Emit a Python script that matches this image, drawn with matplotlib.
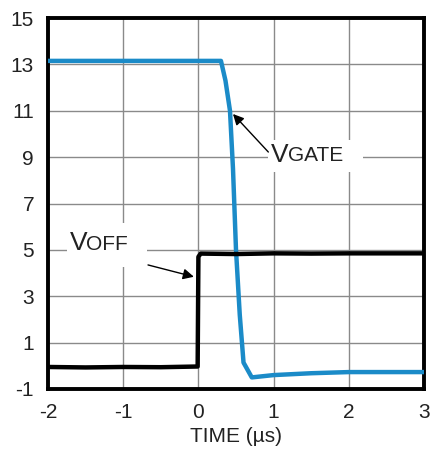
import matplotlib
matplotlib.use('Agg')
import matplotlib.pyplot as plt
from matplotlib.patches import Rectangle

plt.rcParams['font.family'] = ['Liberation Sans', 'DejaVu Sans']
plt.rcParams['axes.unicode_minus'] = False

# VGATE trace (µs, V)
gate_t = [-2.0, -1.0, 0.0, 0.30, 0.36, 0.42, 0.46, 0.50, 0.55, 0.60, 0.71, 1.0, 1.5, 2.0, 2.5, 3.0]
gate_v = [13.15, 13.15, 13.15, 13.15, 12.3, 11.0, 8.5, 5.0, 2.2, 0.14, -0.50, -0.40, -0.32, -0.27, -0.27, -0.27]

# VOFF trace (µs, V)
off_t = [-2.0, -1.5, -1.0, -0.5, -0.01, 0.0, 0.03, 0.5, 1.0, 1.5, 2.0, 2.5, 3.0]
off_v = [-0.05, -0.07, -0.05, -0.06, -0.03, 4.7, 4.84, 4.82, 4.85, 4.84, 4.85, 4.85, 4.85]

x_ticks = [-2, -1, 0, 1, 2, 3]
y_ticks = [-1, 1, 3, 5, 7, 9, 11, 13, 15]

fig = plt.figure(figsize=(4.38, 4.54), dpi=100)
ax = fig.add_axes([48 / 438, 65 / 454, 376 / 438, 371 / 454])

ax.plot(gate_t, gate_v, color='#1b8bc8', lw=3.2, zorder=3)
ax.plot(off_t, off_v, color='black', lw=3.2, zorder=3)

ax.set_xlim(-2, 3)
ax.set_ylim(-1, 15)
ax.set_xticks(x_ticks)
ax.set_yticks(y_ticks)
ax.tick_params(length=0, labelsize=15, pad=10, colors='#222222')
ax.grid(True, color='#8a8a8a', lw=1.0, zorder=1)
for s in ax.spines.values():
    s.set_linewidth(2.8)
    s.set_color('black')
ax.set_xlabel('TIME (µs)', fontsize=15, labelpad=4, color='#222222')

# white patches behind labels to interrupt grid lines
ax.add_patch(Rectangle((-1.75, 4.27), 1.07, 1.9, facecolor='white', edgecolor='none', zorder=2))
ax.add_patch(Rectangle((0.93, 8.35), 1.26, 1.4, facecolor='white', edgecolor='none', zorder=2))

ax.annotate('', xy=(0.46, 10.86), xytext=(0.93, 9.22),
            arrowprops=dict(arrowstyle='-|>', color='black', lw=1.0,
                            mutation_scale=16, shrinkA=0, shrinkB=0), zorder=4)
t = ax.text(0.97, 9.1, 'V', fontsize=19, va='center', ha='left', color='#222222', zorder=4)
ax.annotate('GATE', xy=(1, 0), xycoords=t, xytext=(-1, 1), textcoords='offset points',
            fontsize=15, va='bottom', ha='left', color='#222222', zorder=4)

ax.annotate('', xy=(-0.06, 3.84), xytext=(-0.67, 4.35),
            arrowprops=dict(arrowstyle='-|>', color='black', lw=1.0,
                            mutation_scale=16, shrinkA=0, shrinkB=0), zorder=4)
t2 = ax.text(-1.71, 5.3, 'V', fontsize=19, va='center', ha='left', color='#222222', zorder=4)
ax.annotate('OFF', xy=(1, 0), xycoords=t2, xytext=(-1, 1), textcoords='offset points',
            fontsize=15, va='bottom', ha='left', color='#222222', zorder=4)

fig.savefig('out.png', dpi=100)
